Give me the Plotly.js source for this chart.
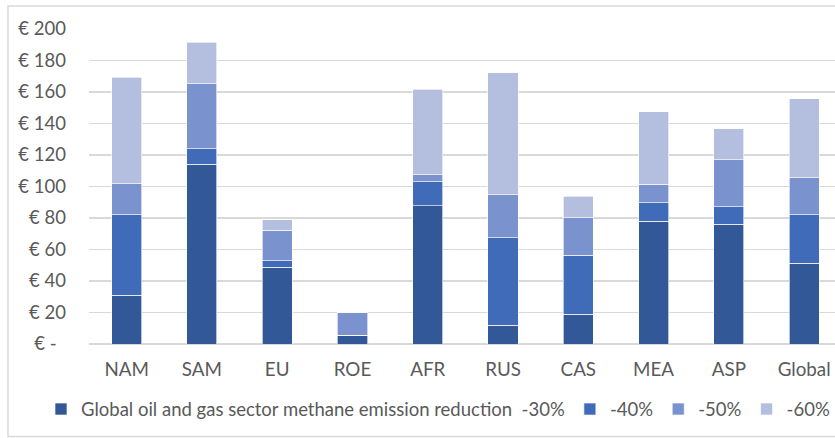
<!DOCTYPE html>
<html>
<head>
<meta charset="utf-8">
<script src="https://cdn.plot.ly/plotly-3.0.1.min.js"></script>
<style>
html,body{margin:0;padding:0;background:#fff;overflow:hidden;}
#chart{width:835px;height:438px;}
</style>
</head>
<body>
<div id="chart"></div>
<script>
const categories = ["NAM","SAM","EU","ROE","AFR","RUS","CAS","MEA","ASP","Global"];
const seriesNames = ["Global oil and gas sector methane emission reduction  -30%","-40%","-50%","-60%"];
const red30 = [31.1, 114.2, 48.8, 5.7, 87.9, 12.0, 18.8, 78.0, 75.9, 51.4];
const red40 = [51.1, 9.9, 4.0, 0, 15.2, 55.6, 37.4, 11.8, 11.4, 30.8];
const red50 = [19.7, 41.2, 19.3, 14.6, 4.5, 27.3, 24.1, 11.7, 29.6, 23.3];
const red60 = [67.6, 26.3, 6.7, 0, 54.3, 77.4, 13.6, 46.0, 19.7, 50.1];
const tickVals = [0,20,40,60,80,100,120,140,160,180,200];
const tickText = ["€ -&nbsp;&nbsp;","€ 20","€ 40","€ 60","€ 80","€ 100","€ 120","€ 140","€ 160","€ 180","€ 200"];

const colors = ["#325898","#3F6BB8","#7A93CF","#B4BFDF"];
const values = [red30, red40, red50, red60];
const FONT = "Lato, Liberation Sans, Arial, sans-serif";

const traces = values.map((v, i) => ({
  type: "bar",
  name: seriesNames[i],
  x: categories,
  y: v,
  marker: {color: colors[i], line: {color: "rgba(255,255,255,0.8)", width: 0.8}},
  hoverinfo: "x+y+name"
}));

const layout = {
  width: 835, height: 438,
  barmode: "stack",
  bargap: 0.6,
  margin: {l: 89, r: 0, t: 29, b: 94, pad: 0},
  paper_bgcolor: "#ffffff",
  plot_bgcolor: "#ffffff",
  font: {family: FONT, color: "#595959", size: 18.5},
  xaxis: {
    type: "category",
    range: [-0.5, 9.41],
    showgrid: false, zeroline: false, showline: false,
    ticks: "", ticklabelstandoff: 12,
    tickfont: {family: FONT, size: 18.8, color: "#595959"}
  },
  yaxis: {
    range: [0, 200],
    tickvals: tickVals, ticktext: tickText,
    showgrid: true, gridcolor: "#d9d9d9", gridwidth: 1.6,
    zeroline: true, zerolinecolor: "#d9d9d9", zerolinewidth: 1.6,
    showline: false, ticks: "", ticklabelstandoff: 22,
    tickfont: {family: FONT, size: 18.5, color: "#595959"}
  },
  legend: {
    orientation: "h",
    x: -0.045, xanchor: "left",
    y: -0.208, yanchor: "middle",
    font: {family: FONT, size: 18.5, color: "#595959"},
    itemwidth: 30,
    tracegroupgap: 0,
    traceorder: "normal"
  },
  shapes: [{
    type: "rect", xref: "paper", yref: "paper",
    x0: -0.1086, x1: 1.2, y0: -0.294, y1: 1.073,
    line: {color: "#d9d9d9", width: 1.5},
    fillcolor: "rgba(0,0,0,0)",
    layer: "below"
  }],
  showlegend: true
};

Plotly.newPlot("chart", traces, layout, {displayModeBar: false, staticPlot: true});
</script>
</body>
</html>
